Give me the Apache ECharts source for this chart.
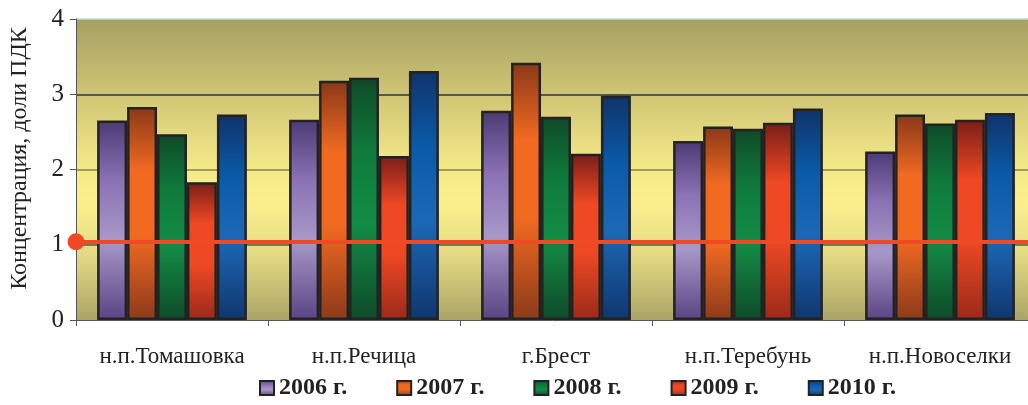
<!DOCTYPE html>
<html>
<head>
<meta charset="utf-8">
<script src="https://cdn.jsdelivr.net/npm/echarts@6/dist/echarts.min.js"></script>
<style>html,body{margin:0;padding:0;background:#fff}#c{width:1028px;height:405px}</style>
</head>
<body>
<div id="c"></div>
<script>
const categories = ['н.п.Томашовка', 'н.п.Речица', 'г.Брест', 'н.п.Теребунь', 'н.п.Новоселки'];
const seriesNames = ['2006 г.', '2007 г.', '2008 г.', '2009 г.', '2010 г.'];
const v2006 = [2.65, 2.66, 2.78, 2.38, 2.24];
const v2007 = [2.83, 3.18, 3.42, 2.57, 2.73];
const v2008 = [2.47, 3.22, 2.70, 2.54, 2.61];
const v2009 = [1.83, 2.18, 2.21, 2.62, 2.66];
const v2010 = [2.73, 3.31, 2.98, 2.81, 2.75];
const pdkLevel = 1.04;
const yTicks = [0, 1, 2, 3, 4];

const values = [v2006, v2007, v2008, v2009, v2010];
const palettes = [
  ['#4c3a74', '#8a72b4', '#a898c8', '#5a4484'],
  ['#8a3818', '#f26a22', '#f26a22', '#8c3a1a'],
  ['#0f4a28', '#0f7a3c', '#138c46', '#0f4a2a'],
  ['#7a1e18', '#ee4824', '#ee4824', '#9a2a1a'],
  ['#10336a', '#0a5aa8', '#1c68b6', '#10366e']
];
function grad(p) {
  return {type: 'linear', x: 0, y: 0, x2: 0, y2: 1, colorStops: [
    {offset: 0, color: p[0]}, {offset: 0.3, color: p[1]}, {offset: 0.6, color: p[2]}, {offset: 1, color: p[3]}
  ]};
}
const serif = 'Liberation Serif';
const series = seriesNames.map((n, i) => ({
  name: n,
  type: 'bar',
  data: values[i],
  barGap: '0%',
  barCategoryGap: '22%',
  itemStyle: {color: grad(palettes[i]), borderColor: '#222', borderWidth: 2.5},
  emphasis: {disabled: true}
}));
series[0].markLine = {
  silent: true,
  symbol: ['circle', 'none'],
  symbolSize: 17,
  label: {show: false},
  lineStyle: {color: '#ef4a24', width: 4, type: 'solid'},
  itemStyle: {color: '#ef4a24'},
  data: [{yAxis: pdkLevel}],
  z: 10
};
const chart = echarts.init(document.getElementById('c'));
chart.setOption({
  animation: false,
  grid: {
    left: 76, top: 19, width: 960, height: 301, show: true, borderWidth: 0,
    containLabel: false, outerBoundsMode: 'none',
    backgroundColor: {type: 'linear', x: 0, y: 0, x2: 0, y2: 1, colorStops: [
      {offset: 0, color: '#a6a062'}, {offset: 0.25, color: '#cfc575'}, {offset: 0.5, color: '#f5ea88'},
      {offset: 0.62, color: '#faef8c'}, {offset: 0.78, color: '#e4da84'}, {offset: 1, color: '#aba466'}
    ]}
  },
  legend: {
    bottom: 0, left: 254, itemWidth: 14, itemHeight: 14, itemGap: 49,
    icon: 'rect',
    textStyle: {fontFamily: serif, fontWeight: 'bold', fontSize: 24, color: '#222'},
    data: seriesNames
  },
  xAxis: {
    type: 'category', data: categories,
    axisLine: {lineStyle: {color: '#555', width: 1}},
    axisTick: {show: true, length: 6, lineStyle: {color: '#555'}},
    axisLabel: {fontFamily: serif, fontSize: 23, color: '#222', margin: 25}
  },
  yAxis: {
    type: 'value', min: 0, max: 4, interval: 1,
    name: 'Концентрация, доли ПДК', nameLocation: 'middle', nameGap: 44,
    nameTextStyle: {fontFamily: serif, fontSize: 24, color: '#222', padding: [0, 0, 0, 22]},
    axisLine: {show: true, lineStyle: {color: '#555'}},
    axisTick: {show: true, length: 6, lineStyle: {color: '#555'}},
    axisLabel: {fontFamily: serif, fontSize: 25, color: '#222', margin: 12,
      formatter: v => yTicks.includes(v) ? String(v) : ''},
    splitLine: {show: true, lineStyle: {color: ['rgba(0,0,0,0)', '#5a5638', '#8a8048', '#333333', '#b9dcd8'], width: 1.5}}
  },
  series: series
});
</script>
</body>
</html>
